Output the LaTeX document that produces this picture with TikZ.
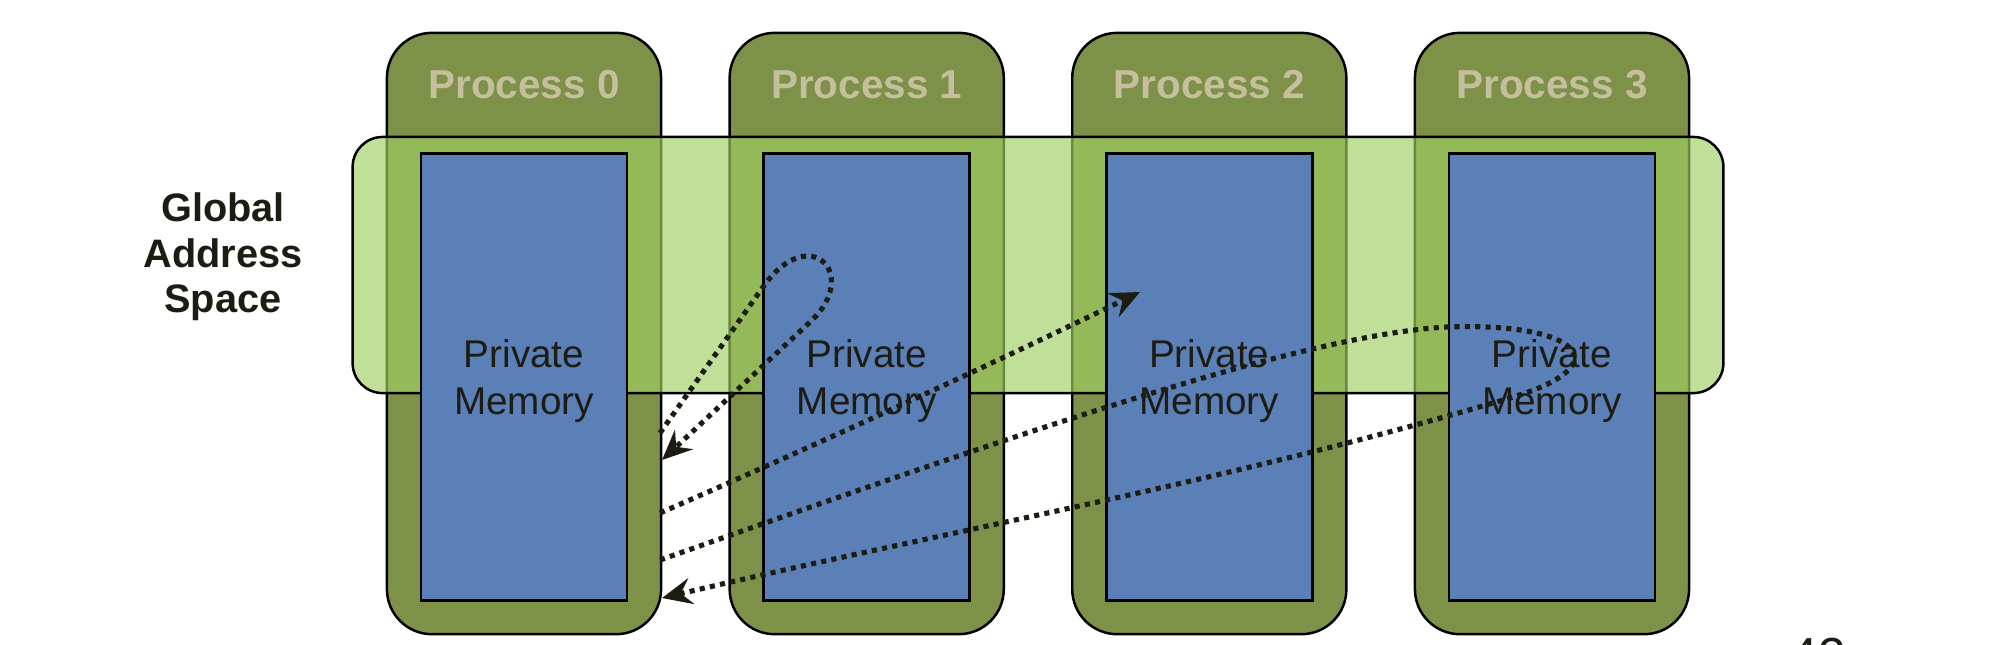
\documentclass[tikz,border=0pt]{standalone}
\usepackage{fontspec}
\setmainfont{Liberation Sans}
\usetikzlibrary{arrows.meta}
\definecolor{olive}{RGB}{126,145,72}
\definecolor{memblue}{RGB}{91,127,183}
\definecolor{bandgreen}{RGB}{160,206,99}
\definecolor{labeltan}{RGB}{197,191,157}
\definecolor{ink}{RGB}{29,28,18}
\begin{document}
\begin{tikzpicture}[x=0.01cm,y=-0.01cm,
 procbox/.style={draw=black, line width=0.7pt, fill=olive, rounded corners=0.45cm,
   minimum width=2.74cm, minimum height=6.01cm, inner sep=0pt},
 gasband/.style={draw=black, line width=0.7pt, fill=bandgreen, fill opacity=0.66,
   rounded corners=0.3cm, minimum width=13.7cm, minimum height=2.56cm, inner sep=0pt},
 membox/.style={draw=black, line width=0.8pt, fill=memblue,
   minimum width=2.06cm, minimum height=4.46cm, inner sep=0pt},
 proclabel/.style={text=labeltan, font=\fontsize{11.5}{13}\selectfont\bfseries, anchor=base, inner sep=0pt},
 memlabel/.style={text=ink, font=\fontsize{11}{13.1}\selectfont, align=center, inner sep=0pt},
 sidelabel/.style={text=ink, font=\fontsize{11.3}{12.9}\selectfont\bfseries, align=center, inner sep=0pt},
 flow/.style={draw=ink, line width=1.45pt, dash pattern=on 1.45pt off 1.5pt,
   -{Stealth[length=8.5pt,width=7.5pt,inset=3pt]}}
]
\useasboundingbox (0,0) rectangle (2012,644);

% processes
\node[procbox] (p0) at (524,333.5) {};
\node[procbox] (p1) at (866.7,333.5) {};
\node[procbox] (p2) at (1209.3,333.5) {};
\node[procbox] (p3) at (1552,333.5) {};

% global address space band
\node[gasband] (gas) at (1038,265) {};

% private memories
\node[membox] (m0) at (524,377) {};
\node[membox] (m1) at (866.7,377) {};
\node[membox] (m2) at (1209.3,377) {};
\node[membox] (m3) at (1552,377) {};

% labels
\node[proclabel] (l0) at (524,98) {Process 0};
\node[proclabel] (l1) at (866.7,98) {Process 1};
\node[proclabel] (l2) at (1209.3,98) {Process 2};
\node[proclabel] (l3) at (1552,98) {Process 3};

\node[memlabel] (t0) at (524,381) {Private\\Memory};
\node[memlabel] (t1) at (866.7,381) {Private\\Memory};
\node[memlabel] (t2) at (1209.3,381) {Private\\Memory};
\node[memlabel] (t3) at (1552,381) {Private\\Memory};

\node[sidelabel] (gl) at (223,257) {Global\\Address\\Space};

\node[anchor=north west, inner sep=0pt, text=ink, font=\fontsize{14}{16}\selectfont] (pg) at (1790,637) {42};

% connector end points on process 0
\coordinate (s1) at (660,433);
\coordinate (e1) at (662,460);
\coordinate (s2) at (660,513);
\coordinate (e2) at (1140,292);
\coordinate (s3) at (660,560);
\coordinate (e3) at (662,598);

% loop into process 1 and back
\draw[flow] (s1) -- (763,287) .. controls (809,221) and (862,274) .. (810,322) -- (e1);
% access into process 2
\draw[flow] (s2) .. controls (850,430) and (1000,360) .. (e2);
% loop into process 3 and back
\draw[flow] (s3) .. controls (1000,440) and (1297,335) .. (1447,327)
  .. controls (1580,322) and (1620,365) .. (1513,397)
  .. controls (1233,481) and (942,532) .. (e3);
\end{tikzpicture}
\end{document}
